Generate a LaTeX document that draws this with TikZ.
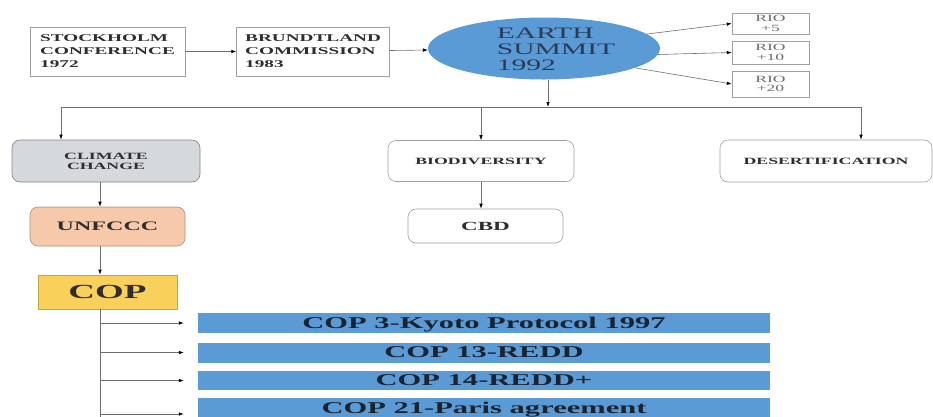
\documentclass[tikz,border=0pt]{standalone}
\usepackage{fontspec}
\setmainfont{Liberation Serif}[FakeStretch=1.85]
\usetikzlibrary{arrows.meta,positioning,shapes.geometric}
\definecolor{barblue}{HTML}{5B9BD5}
\definecolor{linegray}{HTML}{6E6E6E}
\definecolor{boxgray}{HTML}{A0A0A0}
\definecolor{climgray}{HTML}{D5D8DD}
\definecolor{peach}{HTML}{F7C9AB}
\definecolor{gold}{HTML}{F9D05A}
\definecolor{boxtext}{HTML}{2E2E2E}
\definecolor{earthtext}{HTML}{2B3A55}
\definecolor{riotext}{HTML}{6B6B6B}
\definecolor{bartext}{HTML}{1B2330}

\begin{document}
\begin{tikzpicture}[
  x=1pt,y=-1pt,
  box/.style={draw=boxgray,line width=0.6pt,align=left,text=boxtext,
              font=\bfseries\fontsize{10.4}{13}\selectfont,
              minimum width=155pt,minimum height=49pt},
  rbox/.style={draw=boxgray,line width=0.6pt,rounded corners=8pt,align=center,text=boxtext,
               font=\bfseries\fontsize{9.6}{10}\selectfont},
  rio/.style={draw=boxgray,line width=0.5pt,align=center,text=riotext,
              minimum width=77pt,inner sep=1pt,font=\fontsize{9.5}{9.5}\selectfont},
  summit/.style={ellipse,fill=barblue,minimum width=232pt,minimum height=62pt,inner sep=0pt},
  copbar/.style={fill=barblue,minimum width=572pt,inner sep=0pt,text=bartext,text depth=1pt,
                 font=\bfseries\fontsize{16.5}{18}\selectfont},
  arr/.style={-{Latex[length=5pt,width=3.5pt,color=black]},draw=linegray,line width=0.6pt},
  wire/.style={draw=linegray,line width=0.6pt}
]
\useasboundingbox (0,0) rectangle (933,416);
\clip (0,0) rectangle (933,416);

% top row
\node[box] (stockholm) at (107.5,51.5) {STOCKHOLM\\CONFERENCE\\1972};
\node[box,minimum width=153pt,right=51pt of stockholm] (brundtland) {BRUNDTLAND\\COMMISSION\\1983};
\node[summit] (earth) at (544,48.5) {};
\node[align=left,text=earthtext,font=\fontsize{16}{16}\selectfont] (earthlbl) at (556,49) {EARTH\\SUMMIT\\1992};
\node[rio,minimum height=21pt] (rio5) at (770.5,23.5) {RIO\\+5};
\node[rio,minimum height=23pt] (rio10) at (770.5,52.5) {RIO\\+10};
\node[rio,minimum height=26pt] (rio20) at (770.5,84) {RIO\\+20};

\draw[arr] (stockholm) -- (brundtland);
\draw[arr] (brundtland) -- (earth);
\draw[arr] (earth.8) -- (rio5.west);
\draw[arr] (earth.-3) -- (rio10.west);
\draw[arr] (earth.-12) -- (rio20.west);

% three themes
\node[rbox,fill=climgray,draw=climgray!60!black,minimum width=188pt,minimum height=42pt] (climate) at (106,161) {CLIMATE\\CHANGE};
\node[rbox,minimum width=186pt,minimum height=41pt] (bio) at (481,161) {BIODIVERSITY};
\node[rbox,minimum width=212pt,minimum height=42pt] (desert) at (826,161) {DESERTIFICATION};

\coordinate (split) at (548,107);
\coordinate (lend) at (61,107);
\coordinate (rend) at (861,107);
\draw[arr] (earth.south -| split) -- (split);
\draw[wire] (lend) -- (rend);
\draw[arr] (lend) -- (lend |- climate.north);
\draw[arr] (split -| bio.north) -- (bio.north);
\draw[arr] (rend) -- (rend |- desert.north);

% climate branch
\node[rbox,fill=peach,draw=peach!70!black,minimum width=155pt,minimum height=39pt,
      font=\bfseries\fontsize{13}{14}\selectfont] (unfccc) at (107.5,226.5) {UNFCCC};
\node[rbox,minimum width=155pt,minimum height=34pt,
      font=\bfseries\fontsize{12.5}{14}\selectfont] (cbd) at (485.5,226) {CBD};
\node[fill=gold,draw=gold!80!black,line width=0.6pt,minimum width=139pt,minimum height=34pt,
      text=boxtext,font=\bfseries\fontsize{20}{22}\selectfont] (copbox) at (107.5,292) {COP};

\coordinate (spine) at (100,0);
\coordinate (spineend) at (100,430);
\draw[arr] (climate.south -| spine) -- (unfccc.north -| spine);
\draw[arr] (unfccc.south -| spine) -- (copbox.north -| spine);
\draw[arr] (bio.south) -- (bio.south |- cbd.north);
\draw[wire] (copbox.south -| spine) -- (spineend);

% COP meetings
\node[copbar,minimum height=20pt] (cop3) at (484,323) {COP 3-Kyoto Protocol 1997};
\node[copbar,minimum height=20pt] (cop13) at (484,352.5) {COP 13-REDD};
\node[copbar,minimum height=19pt] (cop14) at (484,380.5) {COP 14-REDD+};
\node[copbar,minimum height=20pt] (cop21) at (484,408) {COP 21-Paris agreement};

\foreach \b in {cop3,cop13,cop14}
  \draw[arr,shorten >=14pt] (\b.west -| spine) -- (\b.west);
\draw[arr,shorten >=14pt] ([yshift=-6pt]cop21.west -| spine) -- ([yshift=-6pt]cop21.west);
\end{tikzpicture}
\end{document}
